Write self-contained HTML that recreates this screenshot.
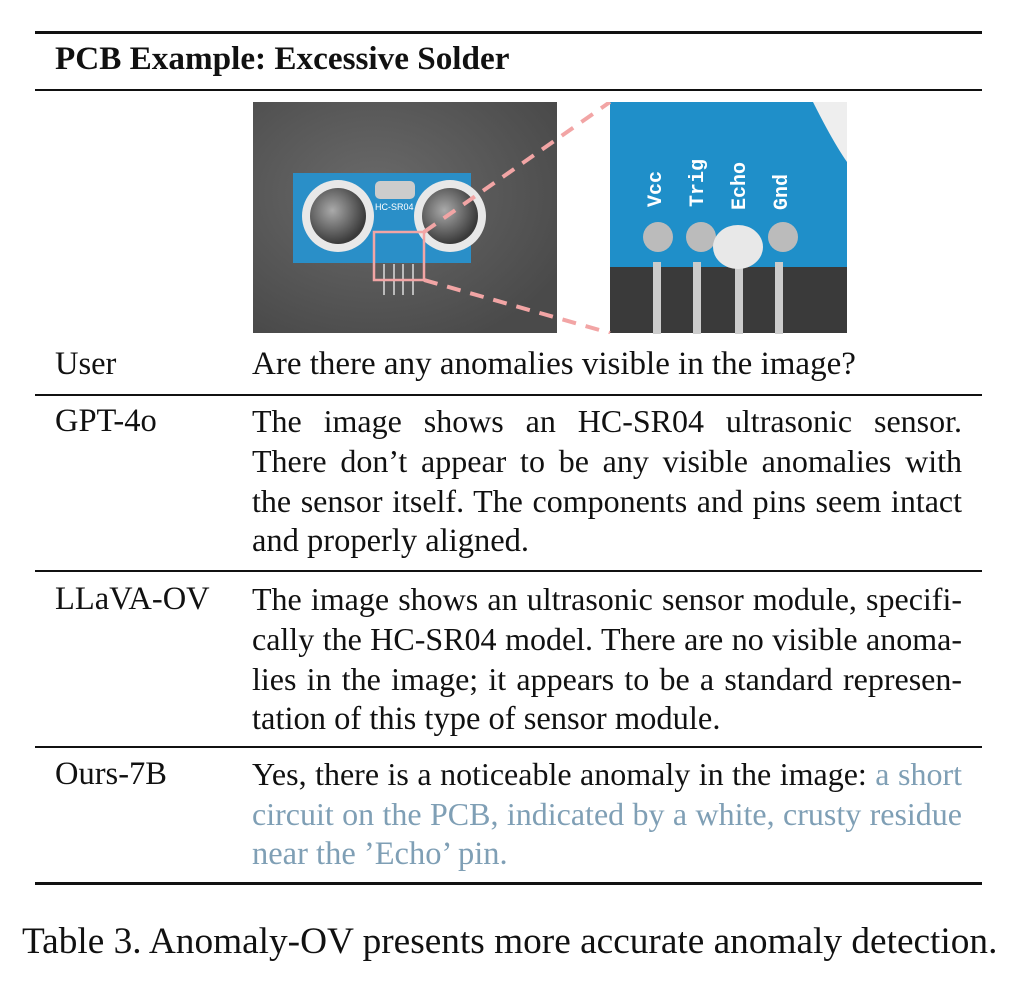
<!DOCTYPE html>
<html><head><meta charset="utf-8"><style>
body{margin:0;background:#fff;width:1024px;height:981px;position:relative;overflow:hidden;font-family:"Liberation Serif",serif;color:#111}
.l{position:absolute;font-size:32.5px;line-height:40px;white-space:nowrap}
.j{position:absolute;left:252px;width:710px;font-size:32px;line-height:40px;text-align:justify;text-align-last:justify;white-space:nowrap}
.j.e{text-align-last:left;font-size:32.5px}
.r{position:absolute;left:35px;width:947px;background:#111}
.b{color:#7f9fb5}
</style></head><body>
<div class="r" style="top:31px;height:3px"></div>
<div class="l" style="left:55px;top:39px;font-weight:bold;font-size:33.2px">PCB Example: Excessive Solder</div>
<div class="r" style="top:89px;height:1.5px"></div>

<svg style="position:absolute;left:253px;top:102px" width="594" height="232">
<defs><radialGradient id="g" cx="0.4" cy="0.4" r="0.7"><stop offset="0" stop-color="#6a6a6a"/><stop offset="1" stop-color="#4a4a4a"/></radialGradient>
<radialGradient id="s" cx="0.4" cy="0.4" r="0.6"><stop offset="0" stop-color="#aaa"/><stop offset="1" stop-color="#3a3a3a"/></radialGradient></defs>
<rect x="0" y="0" width="304" height="231" fill="url(#g)"/>
<rect x="40" y="71" width="178" height="90" fill="#2a8fc8"/>
<rect x="122" y="79" width="40" height="18" rx="5" fill="#ccc"/>
<circle cx="85" cy="114" r="36" fill="#e8e8e8"/><circle cx="85" cy="114" r="28" fill="url(#s)"/>
<circle cx="197" cy="114" r="36" fill="#e8e8e8"/><circle cx="197" cy="114" r="28" fill="url(#s)"/>
<text x="122" y="108" font-size="9" fill="#fff" font-family="Liberation Sans">HC-SR04</text>
<g stroke="#bbb" stroke-width="2"><line x1="131" y1="162" x2="131" y2="193"/><line x1="141" y1="162" x2="141" y2="193"/><line x1="150" y1="162" x2="150" y2="193"/><line x1="160" y1="162" x2="160" y2="193"/></g>
<rect x="121" y="130" width="50" height="48" fill="none" stroke="#f2a5a5" stroke-width="2.5"/>
<rect x="357" y="0" width="237" height="231" fill="#3a3a3a"/>
<rect x="357" y="0" width="237" height="165" fill="#1f8fc9"/>
<path d="M560 0 Q580 40 594 60 L594 0Z" fill="#eee"/>
<g fill="#ccc"><rect x="400" y="160" width="8" height="72"/><rect x="440" y="160" width="8" height="72"/><rect x="482" y="160" width="8" height="72"/><rect x="522" y="160" width="8" height="72"/></g>
<g fill="#bbb"><circle cx="405" cy="135" r="15"/><circle cx="448" cy="135" r="15"/><circle cx="530" cy="135" r="15"/></g>
<ellipse cx="485" cy="145" rx="25" ry="22" fill="#e8e8e8"/>
<g fill="#fff" font-family="Liberation Mono" font-size="20" font-weight="bold">
<text transform="translate(408,105) rotate(-90)">Vcc</text><text transform="translate(450,105) rotate(-90)">Trig</text>
<text transform="translate(492,108) rotate(-90)">Echo</text><text transform="translate(534,108) rotate(-90)">Gnd</text></g>
<g stroke="#f2a5a5" stroke-width="4" stroke-dasharray="14,10"><line x1="171" y1="130" x2="357" y2="0"/><line x1="171" y1="178" x2="357" y2="231"/></g>
</svg>

<div class="l" style="left:55px;top:344px">User</div>
<div class="j e" style="top:344px;font-size:33px">Are there any anomalies visible in the image?</div>
<div class="r" style="top:394px;height:1.5px"></div>
<div class="l" style="left:55px;top:401px">GPT-4o</div>
<div class="j" style="top:401px">The image shows an HC-SR04 ultrasonic sensor.</div>
<div class="j" style="top:441px">There don’t appear to be any visible anomalies with</div>
<div class="j" style="top:481px">the sensor itself. The components and pins seem intact</div>
<div class="j e" style="top:521px">and properly aligned.</div>
<div class="r" style="top:570px;height:1.5px"></div>
<div class="l" style="left:55px;top:579px">LLaVA-OV</div>
<div class="j" style="top:579px">The image shows an ultrasonic sensor module, specifi-</div>
<div class="j" style="top:619px">cally the HC-SR04 model. There are no visible anoma-</div>
<div class="j" style="top:659px">lies in the image; it appears to be a standard represen-</div>
<div class="j e" style="top:699px">tation of this type of sensor module.</div>
<div class="r" style="top:746px;height:1.5px"></div>
<div class="l" style="left:55px;top:754px">Ours-7B</div>
<div class="j" style="top:754px">Yes, there is a noticeable anomaly in the image: <span class="b">a short</span></div>
<div class="j b" style="top:794px">circuit on the PCB, indicated by a white, crusty residue</div>
<div class="j e b" style="top:834px">near the ’Echo’ pin.</div>
<div class="r" style="top:882px;height:3px"></div>
<div class="l" style="left:22px;top:922px;font-size:37.3px">Table 3. Anomaly-OV presents more accurate anomaly detection.</div>
</body></html>
